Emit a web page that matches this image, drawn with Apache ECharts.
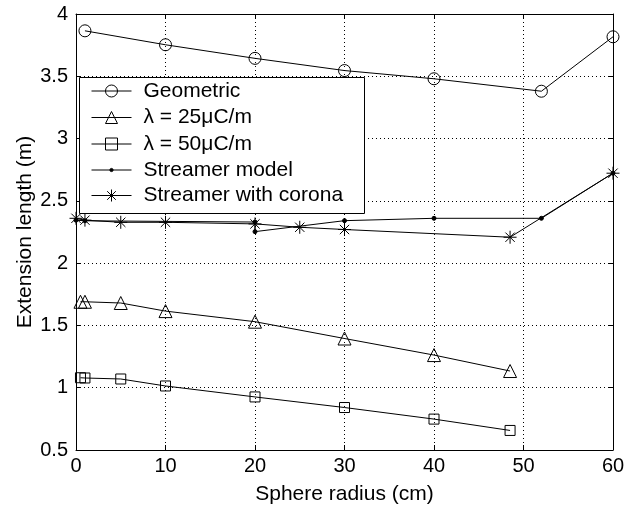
<!DOCTYPE html>
<html>
<head>
<meta charset="utf-8">
<script src="https://cdn.jsdelivr.net/npm/echarts@6/dist/echarts.min.js"></script>
<style>
  html, body { margin: 0; padding: 0; background: #fff; }
  #main { width: 637px; height: 510px; }
</style>
</head>
<body>
<div id="main"></div>
<script>
// values
var geometricX = [1, 10, 20, 30, 40, 52, 60];
var geometricY = [3.865, 3.753, 3.644, 3.546, 3.48, 3.38, 3.817];

var lambda25X = [0.5, 1, 5, 10, 20, 30, 40, 48.5];
var lambda25Y = [1.69, 1.69, 1.68, 1.615, 1.53, 1.395, 1.262, 1.134];

var lambda50X = [0.5, 1, 5, 10, 20, 30, 40, 48.5];
var lambda50Y = [1.08, 1.078, 1.07, 1.014, 0.926, 0.841, 0.748, 0.657];

var modelX = [0, 1, 20, 20, 30, 40, 52, 60];
var modelY = [2.345, 2.34, 2.33, 2.253, 2.341, 2.36, 2.36, 2.722];

var coronaX = [0, 1, 5, 10, 20, 25, 30, 48.5, 60];
var coronaY = [2.36, 2.345, 2.328, 2.328, 2.315, 2.288, 2.27, 2.208, 2.722];

var seriesNames = ['Geometric', 'λ = 25μC/m', 'λ = 50μC/m', 'Streamer model', 'Streamer with corona'];

function pairs(xs, ys) {
  return xs.map(function (x, i) { return [x, ys[i]]; });
}

var FONT = 'Liberation Sans';
var star = 'path://M0,-6L0,6M-6,0L6,0M-4.3,-4.3L4.3,4.3M-4.3,4.3L4.3,-4.3';

function lineSeries(name, data, symbol, size, filled) {
  return {
    name: name,
    type: 'line',
    data: data,
    symbol: symbol,
    symbolSize: size,
    showAllSymbol: true,
    animation: false,
    lineStyle: { color: '#000', width: 1 },
    itemStyle: {
      color: filled ? '#000' : 'rgba(0,0,0,0)',
      borderColor: '#000',
      borderWidth: 1
    },
    emphasis: { disabled: true }
  };
}

// one legend per row so the dot marker can stay small
var legendTops = [80.5, 107, 133.5, 159.5, 185];
var legendIconH = [15, 15, 15, 4, 15];
var legends = seriesNames.map(function (name, i) {
  return {
    data: [name],
    orient: 'vertical',
    left: 91,
    top: legendTops[i],
    z: 10,
    itemWidth: 40,
    itemHeight: legendIconH[i],
    padding: 0,
    selectedMode: false,
    lineStyle: { width: 1 },
    itemStyle: { borderWidth: 1 },
    textStyle: { fontFamily: FONT, fontSize: 21, color: '#000', padding: [0, 0, 0, 7] }
  };
});

var myChart = echarts.init(document.getElementById('main'));

var axisCommon = {
  type: 'value',
  axisLine: { show: true, onZero: false, lineStyle: { color: '#000', width: 1 } },
  axisTick: { show: true, inside: true, length: 5, lineStyle: { color: '#000' } }
};

var option = {
  backgroundColor: '#fff',
  textStyle: { fontFamily: FONT },
  grid: { left: 76, right: 24, top: 14, bottom: 58 },
  legend: legends,
  graphic: [{
    type: 'rect',
    left: 79, top: 77, z: 3,
    shape: { width: 285, height: 136 },
    style: { fill: '#fff', stroke: '#000', lineWidth: 1 }
  }],
  xAxis: [
    Object.assign({}, axisCommon, {
      min: 0, max: 60, interval: 10,
      name: 'Sphere radius (cm)',
      nameLocation: 'middle',
      nameGap: 34,
      nameMoveOverlap: false,
      nameTextStyle: { fontFamily: FONT, fontSize: 21, color: '#000' },
      axisLabel: { color: '#000', fontFamily: FONT, fontSize: 20, margin: 6 },
      splitLine: { show: true, lineStyle: { color: '#000', width: 1, type: [1, 3] } }
    }),
    Object.assign({}, axisCommon, {
      min: 0, max: 60, interval: 10, position: 'top',
      axisLabel: { show: false }, splitLine: { show: false }
    })
  ],
  yAxis: [
    Object.assign({}, axisCommon, {
      min: 0.5, max: 4, interval: 0.5,
      name: 'Extension length (m)',
      nameLocation: 'middle',
      nameGap: 40,
      nameMoveOverlap: false,
      nameTextStyle: { fontFamily: FONT, fontSize: 21, color: '#000' },
      axisLabel: { color: '#000', fontFamily: FONT, fontSize: 20, margin: 8 },
      splitLine: { show: true, lineStyle: { color: '#000', width: 1, type: [1, 3] } }
    }),
    Object.assign({}, axisCommon, {
      min: 0.5, max: 4, interval: 0.5, position: 'right',
      axisLabel: { show: false }, splitLine: { show: false }
    })
  ],
  series: [
    lineSeries(seriesNames[0], pairs(geometricX, geometricY), 'circle', 12, false),
    lineSeries(seriesNames[1], pairs(lambda25X, lambda25Y), 'triangle', 13, false),
    lineSeries(seriesNames[2], pairs(lambda50X, lambda50Y), 'rect', 10, false),
    lineSeries(seriesNames[3], pairs(modelX, modelY), 'circle', 4, true),
    lineSeries(seriesNames[4], pairs(coronaX, coronaY), star, 13, true)
  ]
};

myChart.setOption(option);
</script>
</body>
</html>
